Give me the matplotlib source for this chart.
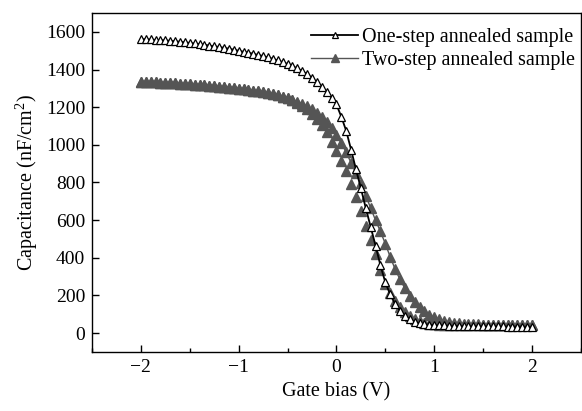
import matplotlib
matplotlib.use("Agg")
import matplotlib.pyplot as plt
from matplotlib.ticker import MultipleLocator

# gate bias sweep (V)
gate_bias = [-2.00, -1.95, -1.90, -1.85, -1.80, -1.75, -1.70, -1.65, -1.60, -1.55,
             -1.50, -1.45, -1.40, -1.35, -1.30, -1.25, -1.20, -1.15, -1.10, -1.05,
             -1.00, -0.95, -0.90, -0.85, -0.80, -0.75, -0.70, -0.65, -0.60, -0.55,
             -0.50, -0.45, -0.40, -0.35, -0.30, -0.25, -0.20, -0.15, -0.10, -0.05,
             0.00, 0.05, 0.10, 0.15, 0.20, 0.25, 0.30, 0.35, 0.40, 0.45,
             0.50, 0.55, 0.60, 0.65, 0.70, 0.75, 0.80, 0.85, 0.90, 0.95,
             1.00, 1.05, 1.10, 1.15, 1.20, 1.25, 1.30, 1.35, 1.40, 1.45,
             1.50, 1.55, 1.60, 1.65, 1.70, 1.75, 1.80, 1.85, 1.90, 1.95, 2.00]

# one-step annealed sample (nF/cm2)
one_step = [1562, 1561, 1560, 1558, 1557, 1555, 1553, 1551, 1548, 1545,
            1542, 1539, 1536, 1532, 1528, 1524, 1520, 1516, 1511, 1506,
            1500, 1495, 1490, 1484, 1478, 1472, 1465, 1457, 1449, 1440,
            1430, 1419, 1406, 1392, 1376, 1356, 1333, 1307, 1280, 1250,
            1215, 1150, 1075, 975, 870, 770, 665, 565, 465, 360,
            270, 205, 155, 118, 90, 72, 60, 52, 47, 44,
            42, 41, 40, 39, 38, 38, 37, 37, 36, 36,
            36, 35, 35, 35, 35, 34, 34, 34, 34, 33, 33]

# two-step annealed sample, the two sweeps seen in the steep part
two_step_up = [1335, 1334, 1333, 1332, 1331, 1330, 1328, 1327, 1325, 1324,
               1322, 1320, 1318, 1316, 1314, 1312, 1310, 1307, 1304, 1301,
               1298, 1295, 1291, 1288, 1284, 1280, 1275, 1270, 1264, 1257,
               1249, 1240, 1225, 1208, 1188, 1162, 1135, 1105, 1070, 1015,
               965, 915, 860, 790, 725, 650, 570, 495, 420, 335,
               260, 210, 170, 137, 110, 88, 72, 62, 55, 50,
               47, 45, 44, 43, 42, 42, 41, 41, 41, 40,
               40, 40, 40, 40, 40, 40, 40, 40, 40, 40, 40]

two_step_down = [1335, 1334, 1333, 1332, 1331, 1330, 1328, 1327, 1325, 1324,
                 1322, 1320, 1318, 1316, 1314, 1312, 1310, 1307, 1304, 1301,
                 1298, 1295, 1291, 1288, 1284, 1280, 1275, 1270, 1264, 1257,
                 1249, 1240, 1230, 1218, 1204, 1188, 1170, 1148, 1120, 1090,
                 1055, 1010, 960, 905, 850, 795, 730, 665, 600, 540,
                 475, 405, 340, 285, 238, 198, 165, 138, 115, 97,
                 83, 72, 64, 59, 55, 52, 50, 48, 47, 46,
                 45, 45, 44, 44, 43, 43, 43, 42, 42, 42, 41]

plt.rcParams['font.family'] = ['Liberation Serif', 'DejaVu Serif']
plt.rcParams['mathtext.default'] = 'regular'
plt.rcParams['font.size'] = 14

gray = '#555555'

fig = plt.figure(figsize=(5.82, 4.11), dpi=100)
ax = fig.add_axes([0.158, 0.144, 0.84, 0.824])

# two-step first so the open triangles sit on top
ax.plot(gate_bias, two_step_up, linestyle='none', marker='^', markersize=6.5,
        color=gray, markeredgecolor=gray)
ax.plot(gate_bias, two_step_down, linestyle='-', linewidth=1, marker='^', markersize=6.5,
        color=gray, markeredgecolor=gray, label='Two-step annealed sample')
ax.plot(gate_bias, one_step, linestyle='-', linewidth=1.3, marker='^', markersize=6,
        color='black', markerfacecolor='white', markeredgecolor='black',
        markeredgewidth=0.9, label='One-step annealed sample')

ax.set_xlim(-2.5, 2.5)
ax.set_ylim(-100, 1700)
ax.xaxis.set_major_locator(MultipleLocator(1))
ax.xaxis.set_minor_locator(MultipleLocator(0.5))
ax.yaxis.set_major_locator(MultipleLocator(200))
ax.tick_params(which='both', direction='in', top=False, right=False)
ax.tick_params(which='major', length=5, width=1, labelsize=14, pad=5)
ax.tick_params(which='minor', length=3, width=1)
ax.tick_params(axis='y', which='minor', left=False)
for s in ax.spines.values():
    s.set_linewidth(1)

ax.set_xlabel('Gate bias (V)', fontsize=14.5, labelpad=5)
ax.set_ylabel('Capacitance (nF/cm$^2$)', fontsize=14.5, labelpad=4)

h, l = ax.get_legend_handles_labels()
ax.legend(h[::-1], l[::-1], loc='upper right', bbox_to_anchor=(1.0, 0.975),
          frameon=False, fontsize=14.5,
          handlelength=2.3, handletextpad=0.2, labelspacing=0.22,
          borderaxespad=0.1, borderpad=0.2, markerscale=0.8)

fig.savefig('out.png', dpi=100)
